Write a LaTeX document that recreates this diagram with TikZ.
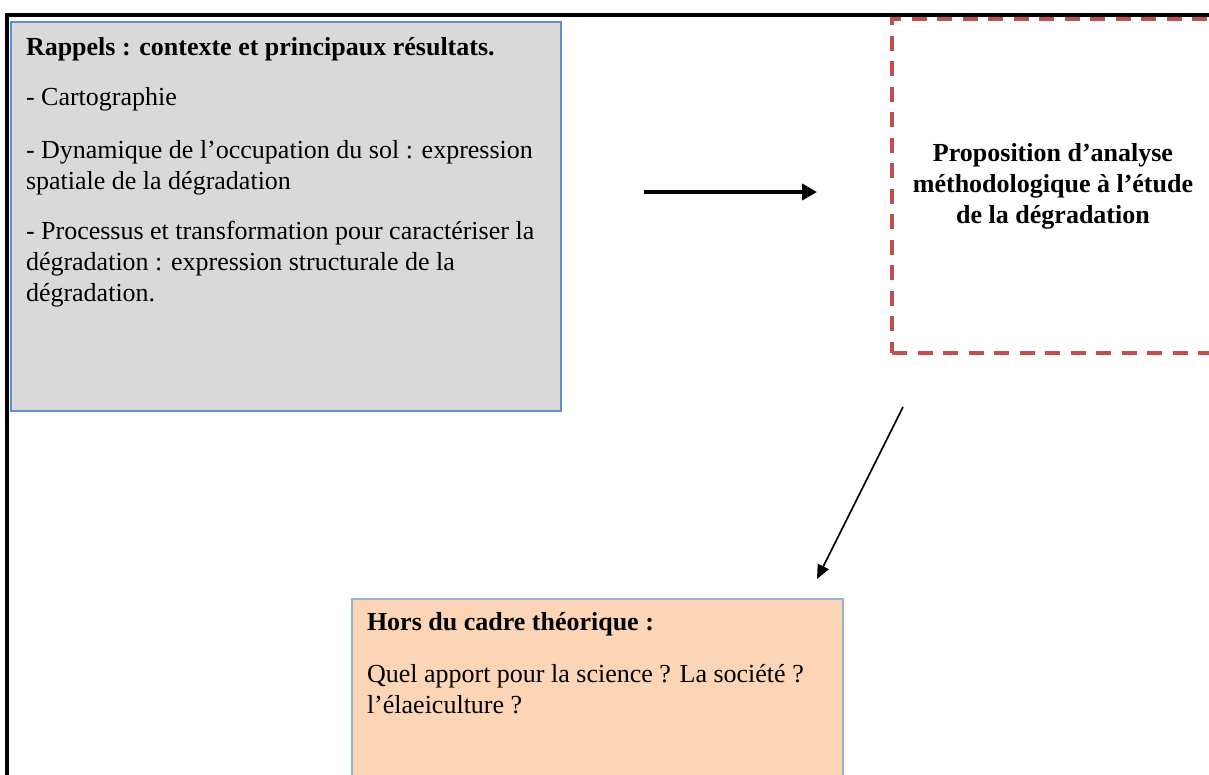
\documentclass[tikz,border=0pt]{standalone}
\usepackage{fontspec}
\setmainfont{Liberation Serif}
\usetikzlibrary{arrows.meta}
\definecolor{boxgray}{RGB}{217,217,217}
\definecolor{boxblue}{RGB}{91,143,214}
\definecolor{orfill}{RGB}{251,213,181}
\definecolor{orline}{RGB}{149,179,215}
\definecolor{dashred}{RGB}{192,80,77}
\begin{document}
\begin{tikzpicture}[x=1pt,y=1pt,
  frame/.style={line width=3.5pt, draw=black},
  graybox/.style={draw=boxblue, line width=1.6pt, fill=boxgray, inner xsep=15pt, inner ysep=0pt, outer sep=0pt, anchor=north west},
  orbox/.style={draw=orline, line width=1.6pt, fill=orfill, inner xsep=15pt, inner ysep=0pt, outer sep=0pt, anchor=north west},
  dashbox/.style={draw=dashred, line width=4pt, dash pattern=on 15pt off 10.5pt, minimum width=322pt, minimum height=334pt, align=center, font=\fontsize{26}{31}\selectfont\bfseries},
  bigarrow/.style={line width=4pt, -{Triangle[length=15pt,width=16pt]}},
  thinarrow/.style={line width=1.6pt, -{Triangle[length=14pt,width=12pt]}}
]
\path[use as bounding box] (0,0) rectangle (1209,-774);
\clip (0,0) rectangle (1209,-774);
\draw[frame] (7,-15) rectangle (1300,-900);

\node[graybox] (rappels) at (11,-22) {\parbox[t][389pt][t]{520pt}{\fontsize{26}{31}\selectfont\raggedright
\rule{0pt}{33pt}\textbf{Rappels : contexte et principaux résultats.}\\[19pt]
- Cartographie\\[22pt]
- Dynamique de l’occupation du sol : expression\\
spatiale de la dégradation\\[19pt]
- Processus et transformation pour caractériser la\\
dégradation : expression structurale de la\\
dégradation.}};

\node[dashbox] (prop) at (1053,-186) {Proposition d’analyse\\méthodologique à l’étude\\de la dégradation};

\node[orbox] (hors) at (352,-599) {\parbox[t][220pt][t]{461pt}{\fontsize{26}{31}\selectfont\raggedright
\rule{0pt}{31pt}\textbf{Hors du cadre théorique :}\\[21pt]
Quel apport pour la science ? La société ?\\
l’élaeiculture ?}};

\coordinate (a1s) at (644,-192);
\coordinate (a1e) at (817,-192);
\draw[bigarrow] (a1s) -- (a1e);
\coordinate (a2s) at (903,-407);
\coordinate (a2e) at (817,-579);
\draw[thinarrow] (a2s) -- (a2e);
\end{tikzpicture}
\end{document}
